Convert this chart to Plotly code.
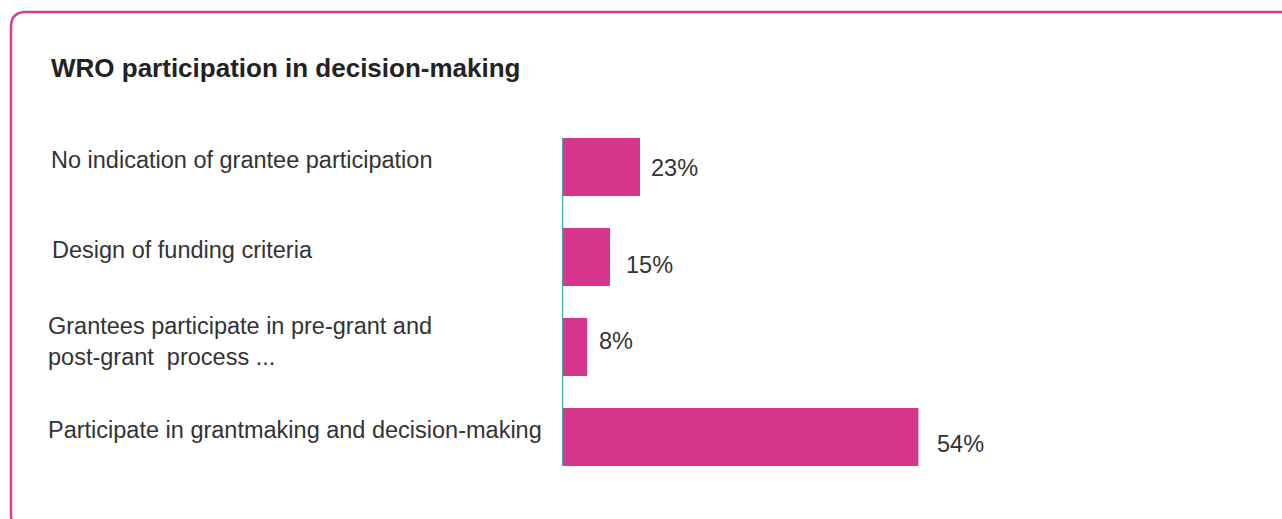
import plotly.graph_objects as go

# ---- data ----
categories = [
    "No indication of grantee participation",
    "Design of funding criteria",
    "Grantees participate in pre-grant and<br>post-grant  process ...",
    "Participate in grantmaking and decision-making",
]
bar_values = [3.25, 2.0, 1.05, 14.85]   # bar lengths as drawn in the picture
value_labels = ["23%", "15%", "8%", "54%"]
title_text = "WRO participation in decision-making"

# ---- styling ----
W, H = 1282, 519
BAR = "#D6378C"
TEAL = "#42A8AF"
BORDER = "#DA3C92"
TXT = "#333333"
FONT = "Liberation Sans, Arial, sans-serif"

cat_x_px = [49, 50, 46, 46]
cat_yshift = [7, 7, 6, 7]
lab_xshift = [9, 14, 10, 17]
lab_yshift = [-1, -8, 6, -7]

ypos = list(range(len(categories)))

fig = go.Figure(go.Bar(
    x=bar_values, y=ypos, orientation="h",
    marker=dict(color=BAR, line=dict(width=0)),
    hoverinfo="skip",
))

ann = []
for i, c in enumerate(categories):
    ann.append(dict(text=c, xref="paper", yref="y", x=cat_x_px[i] / W, y=ypos[i],
                    xanchor="left", yanchor="middle", align="left", showarrow=False,
                    yshift=cat_yshift[i], font=dict(family=FONT, size=23.5, color=TXT)))
for i, t in enumerate(value_labels):
    ann.append(dict(text=t, xref="x", yref="y", x=bar_values[i], y=ypos[i],
                    xanchor="left", yanchor="middle", showarrow=False,
                    xshift=lab_xshift[i], yshift=lab_yshift[i],
                    font=dict(family=FONT, size=23.5, color=TXT)))
ann.append(dict(text="<b>" + title_text + "</b>", xref="paper", yref="paper",
                x=49 / W, y=1 - 68 / H, xanchor="left", yanchor="middle", showarrow=False,
                font=dict(family=FONT, size=26, color="#222222")))

def P(px, py):
    return f"{px / W:.5f},{1 - py / H:.5f}"

border_path = ("M " + P(1300, 12) + " L " + P(26, 12) + " Q " + P(11, 12) + " " + P(11, 27)
               + " L " + P(11, 515) + " Q " + P(11, 530) + " " + P(26, 530) + " L " + P(1300, 530))

shapes = [
    dict(type="path", path=border_path, xref="paper", yref="paper",
         line=dict(color=BORDER, width=2.5)),
    dict(type="line", xref="x", yref="y", x0=0, x1=0, y0=-0.322, y1=3.322,
         line=dict(color=TEAL, width=2.5)),
]

fig.update_layout(
    width=W, height=H,
    margin=dict(l=0, r=0, t=0, b=0),
    paper_bgcolor="white", plot_bgcolor="white",
    showlegend=False,
    bargap=0.356,
    xaxis=dict(domain=[562 / W, 1], range=[0, 30], visible=False, fixedrange=True),
    yaxis=dict(range=[3.911, -1.856], visible=False, fixedrange=True),
    annotations=ann,
    shapes=shapes,
)

fig.write_html("out.html", config={"displayModeBar": False})
